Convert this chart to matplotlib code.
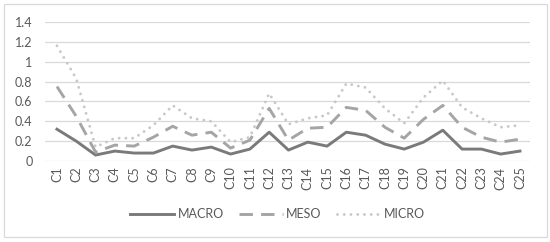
import matplotlib.pyplot as plt
from matplotlib.patches import Rectangle

categories = ['C%d' % i for i in range(1, 26)]
macro = [0.32, 0.20, 0.06, 0.10, 0.08, 0.08, 0.15, 0.11, 0.14, 0.07, 0.12, 0.29, 0.11,
         0.19, 0.15, 0.29, 0.26, 0.17, 0.12, 0.19, 0.31, 0.12, 0.12, 0.07, 0.10]
meso = [0.75, 0.45, 0.09, 0.16, 0.15, 0.24, 0.35, 0.26, 0.29, 0.13, 0.21, 0.53, 0.21,
        0.33, 0.34, 0.54, 0.51, 0.34, 0.23, 0.42, 0.56, 0.34, 0.24, 0.19, 0.22]
micro = [1.16, 0.83, 0.14, 0.23, 0.23, 0.36, 0.56, 0.43, 0.40, 0.19, 0.24, 0.68, 0.37,
         0.43, 0.46, 0.78, 0.74, 0.53, 0.38, 0.64, 0.81, 0.54, 0.43, 0.34, 0.36]
yticks = [0, 0.2, 0.4, 0.6, 0.8, 1, 1.2, 1.4]

plt.rcParams['font.family'] = ['Lato', 'DejaVu Sans']
txt = '#595959'

fig = plt.figure(figsize=(5.5, 2.42), dpi=100)
ax = fig.add_axes([45 / 550, 1 - 161 / 242, 485 / 550, 139 / 242])

x = range(len(categories))
lw = 2.1
ax.plot(x, macro, color='#7a7a7a', lw=lw, solid_joinstyle='round', label='MACRO')
ax.plot(x, meso, color='#a5a5a5', lw=lw, linestyle=(0, (4.6, 2.8)), label='MESO')
ax.plot(x, micro, color='#c8c8c8', lw=lw, linestyle=(0, (0.01, 2.3)),
        dash_capstyle='round', label='MICRO')

ax.set_ylim(0, 1.4)
ax.set_xlim(-0.62, 24.52)
ax.set_yticks(yticks)
ax.set_yticklabels(['%g' % v for v in yticks])
ax.set_xticks(list(x))
ax.set_xticklabels(categories, rotation=90)
ax.tick_params(length=0, labelsize=9, colors=txt)
ax.tick_params(axis='y', pad=9)
ax.tick_params(axis='x', pad=4)
ax.grid(axis='y', color='#d9d9d9', lw=0.9)
ax.set_axisbelow(True)
for s in ax.spines.values():
    s.set_visible(False)

leg = fig.legend(loc='center', bbox_to_anchor=(0.505, 1 - 214 / 242), ncol=3,
                 frameon=False, fontsize=9, handlelength=3.5, handletextpad=0.3,
                 columnspacing=1.2)
for t in leg.get_texts():
    t.set_color(txt)

fig.patches.append(Rectangle((4 / 550, 5 / 242), 543 / 550, 233 / 242,
                             transform=fig.transFigure, fill=False,
                             edgecolor='#d9d9d9', lw=0.9))

fig.savefig('out.png')
